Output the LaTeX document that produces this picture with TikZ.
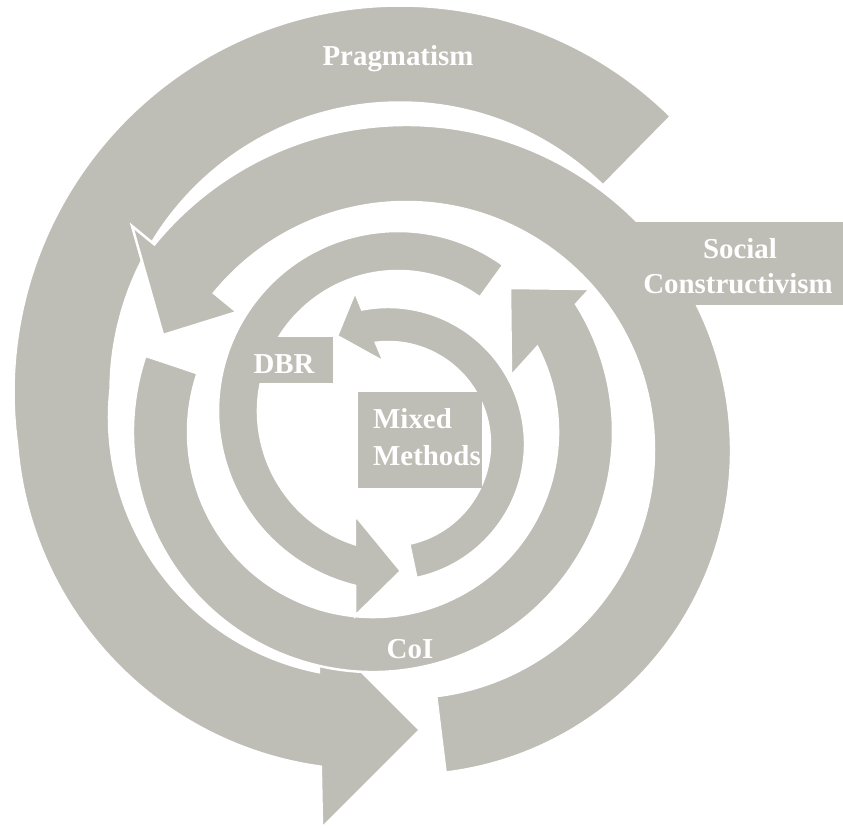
\documentclass[tikz,border=0pt]{standalone}
\usepackage{fontspec}
\setmainfont{Liberation Serif}
\definecolor{bandgrey}{RGB}{190,189,182}
\begin{document}
\begin{tikzpicture}[x=1bp, y=1bp,
  ring/.style={fill=bandgrey, draw=white, line width=2.5bp, line join=miter},
  tagbox/.style={fill=bandgrey, draw=none},
  lbl/.style={text=white, font=\bfseries\fontsize{29}{35}\selectfont, inner sep=0pt}]
\useasboundingbox (0,0) rectangle (843,-828);

% centres of the circular arrows
\coordinate (cA) at (400,-392);   % upper part of the outer arrow
\coordinate (cA2) at (369,-417);  % lower part of the outer arrow
\coordinate (cB) at (406,-450);
\coordinate (cC) at (373,-432);
\coordinate (cD) at (398,-411);
\coordinate (cE) at (388,-444);

% arrowheads: outer barb, tip, inner barb
\coordinate (A-bo) at (322,-828);
\coordinate (A-tip) at (420,-730);
\coordinate (A-bi) at (318,-628);
\coordinate (B-bo) at (132,-226);
\coordinate (B-tip) at (163,-335);
\coordinate (B-bi) at (237,-312);
\coordinate (C-bo) at (590,-289);
\coordinate (C-tip) at (510,-288);
\coordinate (C-bi) at (511,-376);
\coordinate (D-bo) at (355,-616);
\coordinate (D-tip) at (401,-571);
\coordinate (D-bi) at (355,-515);
\coordinate (E-bo) at (355,-292);
\coordinate (E-tip) at (337,-336);
\coordinate (E-bi) at (384,-362);

% Pragmatism (outer arrow)
\path[ring] ([shift={(45.5:386.5bp)}]cA) arc[start angle=45.5, end angle=187.8, radius=386.5bp]
  -- ([shift={(184.5:353bp)}]cA2) arc[start angle=184.5, end angle=262.15, radius=353bp]
  -- (A-bo) -- (A-tip) -- (A-bi)
  -- ([shift={(258.9:260bp)}]cA2) arc[start angle=258.9, end angle=173.8, radius=260bp]
  -- ([shift={(179.4:289.5bp)}]cA) arc[start angle=179.4, end angle=45.5, radius=289.5bp] -- cycle;

% Social Constructivism
\path[ring] ([shift={(-83:325bp)}]cB) arc[start angle=-83, end angle=140.75, radius=325bp]
  -- (B-bo) -- (B-tip) -- (B-bi)
  -- ([shift={(140.75:248bp)}]cB) arc[start angle=140.75, end angle=-83, radius=248bp] -- cycle;
\fill[tagbox] (625,-222) rectangle (843,-305);

% CoI
\path[ring] ([shift={(161.5:240bp)}]cC) arc[start angle=161.5, end angle=392.17, radius=240bp]
  -- (C-bo) -- (C-tip) -- (C-bi)
  -- ([shift={(387.36:185bp)}]cC) arc[start angle=387.36, end angle=161.5, radius=185bp] -- cycle;

% DBR
\path[ring] ([shift={(54.2:180bp)}]cD) arc[start angle=54.2, end angle=256.18, radius=180bp]
  -- (D-bo) -- (D-tip) -- (D-bi)
  -- ([shift={(252.1:140bp)}]cD) arc[start angle=252.1, end angle=54.2, radius=140bp] -- cycle;
\fill[tagbox] (243,-337) rectangle (333,-383);

% Mixed Methods
\path[ring] ([shift={(-78:137bp)}]cE) arc[start angle=-78, end angle=100.9, radius=137bp]
  -- (E-bo) -- (E-tip) -- (E-bi)
  -- ([shift={(96.8:102bp)}]cE) arc[start angle=96.8, end angle=-78, radius=102bp] -- cycle;
\fill[tagbox] (358,-392) rectangle (482,-488);

% labels
\node[lbl, anchor=base] (pragmatism) at (398,-65) {Pragmatism};
\node[lbl, anchor=base] (social) at (740,-258) {Social};
\node[lbl, anchor=base] (constructivism) at (738,-293) {Constructivism};
\node[lbl, anchor=base] (dbr) at (284,-373) {DBR};
\node[lbl, anchor=base west] (mixed) at (373,-428) {Mixed};
\node[lbl, anchor=base west] (methods) at (373,-465) {Methods};
\node[lbl, anchor=base] (coi) at (410,-658) {CoI};
\end{tikzpicture}
\end{document}
